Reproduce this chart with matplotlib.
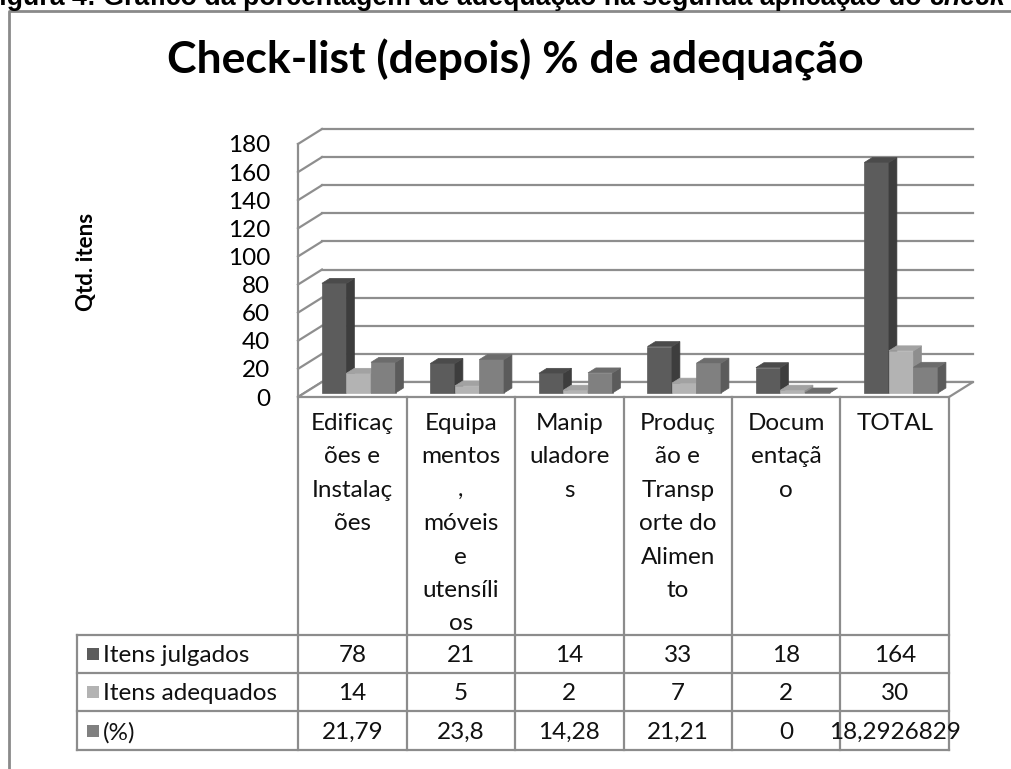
import numpy as np
import matplotlib.pyplot as plt
from matplotlib.patches import Polygon, Rectangle
from matplotlib.lines import Line2D
from matplotlib.transforms import ScaledTranslation, blended_transform_factory

# dados do grafico
categorias = ["Edificaç\nões e\nInstalaç\nões",
              "Equipa\nmentos\n,\nmóveis\ne\nutensíli\nos",
              "Manip\nuladore\ns",
              "Produç\não e\nTransp\norte do\nAlimen\nto",
              "Docum\nentaçã\no",
              "TOTAL"]
nomes_series = ["Itens julgados", "Itens adequados", "(%)"]
itens_julgados = [78, 21, 14, 33, 18, 164]
itens_adequados = [14, 5, 2, 7, 2, 30]
percentual = [21.79, 23.8, 14.28, 21.21, 0, 18.2926829]
y_ticks = [0, 20, 40, 60, 80, 100, 120, 140, 160, 180]

titulo = "Check-list (depois) % de adequação"
legenda_fig = "Figura 4: Gráfico da porcentagem de adequação na segunda aplicação do "

plt.rcParams['font.family'] = ['Lato', 'DejaVu Sans']

W, H = 1012, 769
fig = plt.figure(figsize=(W / 100, H / 100), dpi=100)

def fx(px):
    return px / W

def fy(py):
    return 1 - py / H

# eixo no plano da frente
X0, X1 = 298, 949
Y0, Y180 = 397, 144
ax = fig.add_axes([fx(X0), fy(Y0), (X1 - X0) / W, (Y0 - Y180) / H])
ax.set_xlim(-0.5, 5.5)
ax.set_ylim(0, 180)
for sp in ax.spines.values():
    sp.set_visible(False)
ax.set_xticks([])
ax.set_yticks(y_ticks)
ax.tick_params(axis='y', length=0, pad=20, labelsize=17.5, labelcolor='black')
ax.patch.set_alpha(0)

# profundidade do efeito 3D (pixels)
DX, DY = 24, 15
cinza = '#8e8e8e'

def desloca(x, y, f):
    pts = ax.transData.transform(np.column_stack([x, y]))
    pts = pts + np.array([DX, DY]) * f
    return ax.transData.inverted().transform(pts)

# paredes e linhas de grade
for v in y_ticks:
    p = desloca([-0.5, 5.5], [v, v], 1)
    ax.add_line(Line2D(p[:, 0], p[:, 1], color=cinza, lw=1.6, clip_on=False, zorder=1))
    a = desloca([-0.5], [v], 0)[0]
    b = desloca([-0.5], [v], 1)[0]
    ax.add_line(Line2D([a[0], b[0]], [a[1], b[1]], color=cinza, lw=1.6, clip_on=False, zorder=1))
ax.add_line(Line2D([-0.5, -0.5], [0, 180], color=cinza, lw=1.6, clip_on=False, zorder=1))
chao = np.vstack([desloca([-0.5, 5.5], [0, 0], 0), desloca([5.5, -0.5], [0, 0], 1)])
ax.add_patch(Polygon(chao, closed=True, facecolor='white', edgecolor=cinza, lw=1.6,
                     clip_on=False, zorder=1.5))

# barras 3D
series = [itens_julgados, itens_adequados, percentual]
cor_frente = ['#5c5c5c', '#b3b3b3', '#808080']
cor_lado = ['#3d3d3d', '#8e8e8e', '#5b5b5b']
cor_topo = ['#4b4b4b', '#a2a2a2', '#6c6c6c']
larg = 0.226
F0, F1 = 0.27, 0.6
tr_frente = ax.transData + ScaledTranslation(DX * F0 / 100, DY * F0 / 100, fig.dpi_scale_trans)
z = 2.0
for i in range(len(categorias)):
    for s in range(3):
        v = series[s][i]
        xc = i + (s - 1) * larg
        xl, xr = xc - larg / 2, xc + larg / 2
        ax.bar(xc, v, width=larg, color=cor_frente[s], edgecolor=cor_frente[s], lw=0.5,
               transform=tr_frente, clip_on=False, zorder=z)
        lado = np.vstack([desloca([xr, xr], [0, v], F0), desloca([xr, xr], [v, 0], F1)])
        ax.add_patch(Polygon(lado, closed=True, facecolor=cor_lado[s], edgecolor=cor_lado[s],
                             lw=0.5, clip_on=False, zorder=z + 0.001))
        topo = np.vstack([desloca([xl, xr], [v, v], F0), desloca([xr, xl], [v, v], F1)])
        ax.add_patch(Polygon(topo, closed=True, facecolor=cor_topo[s], edgecolor=cor_topo[s],
                             lw=0.5, clip_on=False, zorder=z + 0.002))
        z += 0.01
ax.set_xlim(-0.5, 5.5)
ax.set_ylim(0, 180)

# tabela de dados
bl = blended_transform_factory(ax.transData, fig.transFigure)
x_tab = ax.transData.inverted().transform((77, 0))[0]
linhas_y = [635, 673, 711, 750]
lc = '#8c8c8c'
for k in range(len(categorias) + 1):
    ax.add_line(Line2D([k - 0.5, k - 0.5], [fy(Y0), fy(linhas_y[-1])], transform=bl,
                       color=lc, lw=1.6, clip_on=False))
ax.add_line(Line2D([x_tab, x_tab], [fy(linhas_y[0]), fy(linhas_y[-1])], transform=bl,
                   color=lc, lw=1.6, clip_on=False))
for yy in linhas_y:
    ax.add_line(Line2D([x_tab, 5.5], [fy(yy), fy(yy)], transform=bl, color=lc, lw=1.6,
                       clip_on=False))

for i, cat in enumerate(categorias):
    ax.text(i, fy(413), cat, transform=bl, ha='center', va='top', fontsize=17.5,
            linespacing=1.73, color='#111111')

def fmt(v):
    return (str(int(v)) if v == int(v) else str(v)).replace('.', ',')

for r, (nome, vals) in enumerate(zip(nomes_series, series)):
    yc = (linhas_y[r] + linhas_y[r + 1]) / 2
    fig.patches.append(Rectangle((fx(87), fy(yc + 6)), 12 / W, 12 / H, transform=fig.transFigure,
                                 facecolor=cor_frente[r], edgecolor='none'))
    fig.text(fx(103), fy(yc), nome, ha='left', va='center_baseline', fontsize=17.5,
             color='#111111')
    for i, v in enumerate(vals):
        ax.text(i, fy(yc), fmt(v), transform=bl, ha='center', va='center_baseline',
                fontsize=17.5, color='#111111')

# titulo, rotulo do eixo e moldura
fig.text(fx(515), fy(60), titulo, ha='center', va='center', fontsize=32, fontweight='bold')
fig.text(fx(87), fy(262), "Qtd. itens", ha='center', va='center', rotation=90, fontsize=16,
         fontweight='bold')
fig.add_artist(Line2D([fx(9), fx(9), fx(1012)], [0, fy(11), fy(11)], color='#8a8a8a', lw=2))

# legenda da figura (cortada no topo, como no original)
t1 = fig.text(0, fy(5), legenda_fig, ha='left', va='baseline', fontsize=19.3,
              fontweight='bold', family='Liberation Sans')
t2 = fig.text(0, fy(5), "check", ha='left', va='baseline', fontsize=19.3,
              fontweight='bold', fontstyle='italic', family='Liberation Sans')
fig.canvas.draw()
r = fig.canvas.get_renderer()
w1 = t1.get_window_extent(r).width
w2 = t2.get_window_extent(r).width
x_ini = 1005 - w1 - w2
t1.set_x(x_ini / W)
t2.set_x((x_ini + w1) / W)

fig.savefig('out.png', dpi=100)
